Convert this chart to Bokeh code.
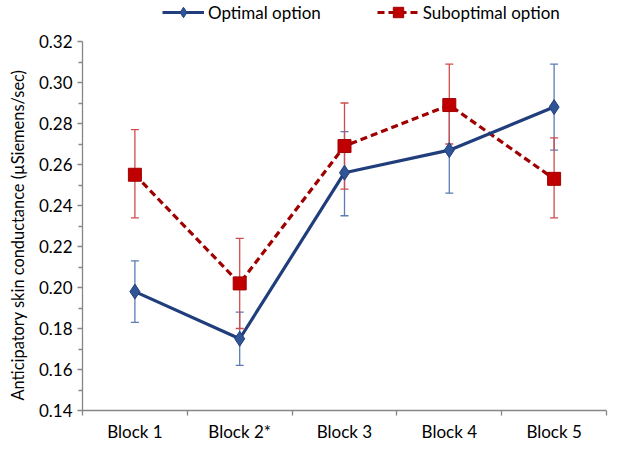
from bokeh.plotting import figure
from bokeh.models import (ColumnDataSource, Whisker, TeeHead, Legend, LegendItem,
                          FixedTicker, NumeralTickFormatter, Range1d, Title)
from bokeh.embed import file_html
from bokeh.resources import INLINE

categories = ["Block 1", "Block 2*", "Block 3", "Block 4", "Block 5"]
optimal_mean = [0.198, 0.175, 0.256, 0.267, 0.288]
optimal_upper = [0.213, 0.188, 0.276, 0.288, 0.309]
optimal_lower = [0.183, 0.162, 0.235, 0.246, 0.267]
subopt_mean = [0.255, 0.202, 0.269, 0.289, 0.253]
subopt_upper = [0.277, 0.224, 0.290, 0.309, 0.273]
subopt_lower = [0.234, 0.180, 0.248, 0.270, 0.234]
y_ticks = [0.14, 0.16, 0.18, 0.20, 0.22, 0.24, 0.26, 0.28, 0.30, 0.32]
y_minor = [0.15, 0.17, 0.19, 0.21, 0.23, 0.25, 0.27, 0.29, 0.31]
y_label = "Anticipatory skin conductance (\u00b5Siemens/sec)"

FONT = "Lato"
FS = "17px"
AXIS_COLOR = "#868686"
BLUE_LINE = "#213E7C"
BLUE_MARK = "#2F5597"
BLUE_ERR = "#5B7DB5"
RED_LINE = "#A00000"
RED_MARK = "#C00000"
RED_ERR = "#D24B4B"

# layout: frame covers legend area too; the y axis is bounded to the data scale
FRAME_H = 410
AXIS_H = 369   # pixels spanned by 0.14 .. 0.32
y_lo, y_hi = y_ticks[0], y_ticks[-1]
y_top = y_hi + (FRAME_H - AXIS_H) * (y_hi - y_lo) / AXIS_H

xs = [i + 1 for i in range(len(categories))]
opt_src = ColumnDataSource(dict(x=xs, y=optimal_mean, upper=optimal_upper, lower=optimal_lower))
sub_src = ColumnDataSource(dict(x=xs, y=subopt_mean, upper=subopt_upper, lower=subopt_lower))

p = figure(frame_width=524, frame_height=FRAME_H, output_backend="svg", toolbar_location=None,
           x_range=Range1d(0.5, len(categories) + 0.5),
           y_range=Range1d(y_lo, y_top),
           min_border_left=82, min_border_right=2, min_border_top=0, min_border_bottom=27)
p.outline_line_color = None
p.xgrid.visible = False
p.ygrid.visible = False
p.background_fill_color = "white"
p.border_fill_color = "white"

# x axis: labels at centers, ticks at category boundaries
xa = p.xaxis[0]
xa.ticker = FixedTicker(ticks=xs, minor_ticks=[x - 0.5 for x in xs] + [xs[-1] + 0.5])
xa.major_label_overrides = {x: c for x, c in zip(xs, categories)}
xa.major_tick_out = 0
xa.major_tick_in = 0
xa.minor_tick_out = 5
xa.minor_tick_in = 0
xa.major_label_standoff = 5
for ax in (p.xaxis[0], p.yaxis[0]):
    ax.axis_line_color = AXIS_COLOR
    ax.axis_line_width = 1.3
    ax.major_tick_line_color = AXIS_COLOR
    ax.minor_tick_line_color = AXIS_COLOR
    ax.major_tick_line_width = 1.3
    ax.minor_tick_line_width = 1.3
    ax.major_label_text_font = FONT
    ax.major_label_text_font_size = FS
    ax.major_label_text_color = "black"

ya = p.yaxis[0]
ya.bounds = (y_lo, y_hi)
ya.ticker = FixedTicker(ticks=y_ticks, minor_ticks=y_minor)
ya.formatter = NumeralTickFormatter(format="0.00")
ya.major_tick_out = 5
ya.major_tick_in = 0
ya.minor_tick_out = 4
ya.minor_tick_in = 0
ya.major_label_standoff = 5

# y label as a side title so it can be centred on the axis span, not the frame
p.add_layout(Title(text=y_label, align="left", offset=10, vertical_align="top",
                   standoff=14, text_font=FONT, text_font_size="16.4px",
                   text_font_style="normal", text_color="black"), "left")

# error bars
for src, col in ((opt_src, BLUE_ERR), (sub_src, RED_ERR)):
    w = Whisker(source=src, base="x", upper="upper", lower="lower", dimension="height",
                line_color=col, line_width=1.3,
                upper_head=TeeHead(size=8, line_color=col, line_width=1.3),
                lower_head=TeeHead(size=8, line_color=col, line_width=1.3))
    p.add_layout(w)

red_line = p.line("x", "y", source=sub_src, line_color=RED_LINE, line_width=3.2, line_dash="7 4")
red_pts = p.scatter("x", "y", source=sub_src, marker="square", size=13,
                    fill_color=RED_MARK, line_color=RED_LINE, line_width=1)
blue_line = p.line("x", "y", source=opt_src, line_color=BLUE_LINE, line_width=3.2)
blue_pts = p.scatter("x", "y", source=opt_src, marker="diamond", size=15,
                     fill_color=BLUE_MARK, line_color=BLUE_LINE, line_width=1)

legend = Legend(items=[LegendItem(label="Optimal option", renderers=[blue_line, blue_pts]),
                       LegendItem(label="Suboptimal option", renderers=[red_line, red_pts])],
                orientation="horizontal", location=(80, FRAME_H - 25))
legend.border_line_color = None
legend.background_fill_alpha = 0
legend.padding = 0
legend.margin = 0
legend.spacing = 56
legend.glyph_width = 42
legend.glyph_height = 26
legend.label_height = 26
legend.label_standoff = 4
legend.label_text_font = FONT
legend.label_text_font_size = FS
legend.label_text_color = "black"
p.add_layout(legend)

open("out.html", "w").write(file_html(p, INLINE))
